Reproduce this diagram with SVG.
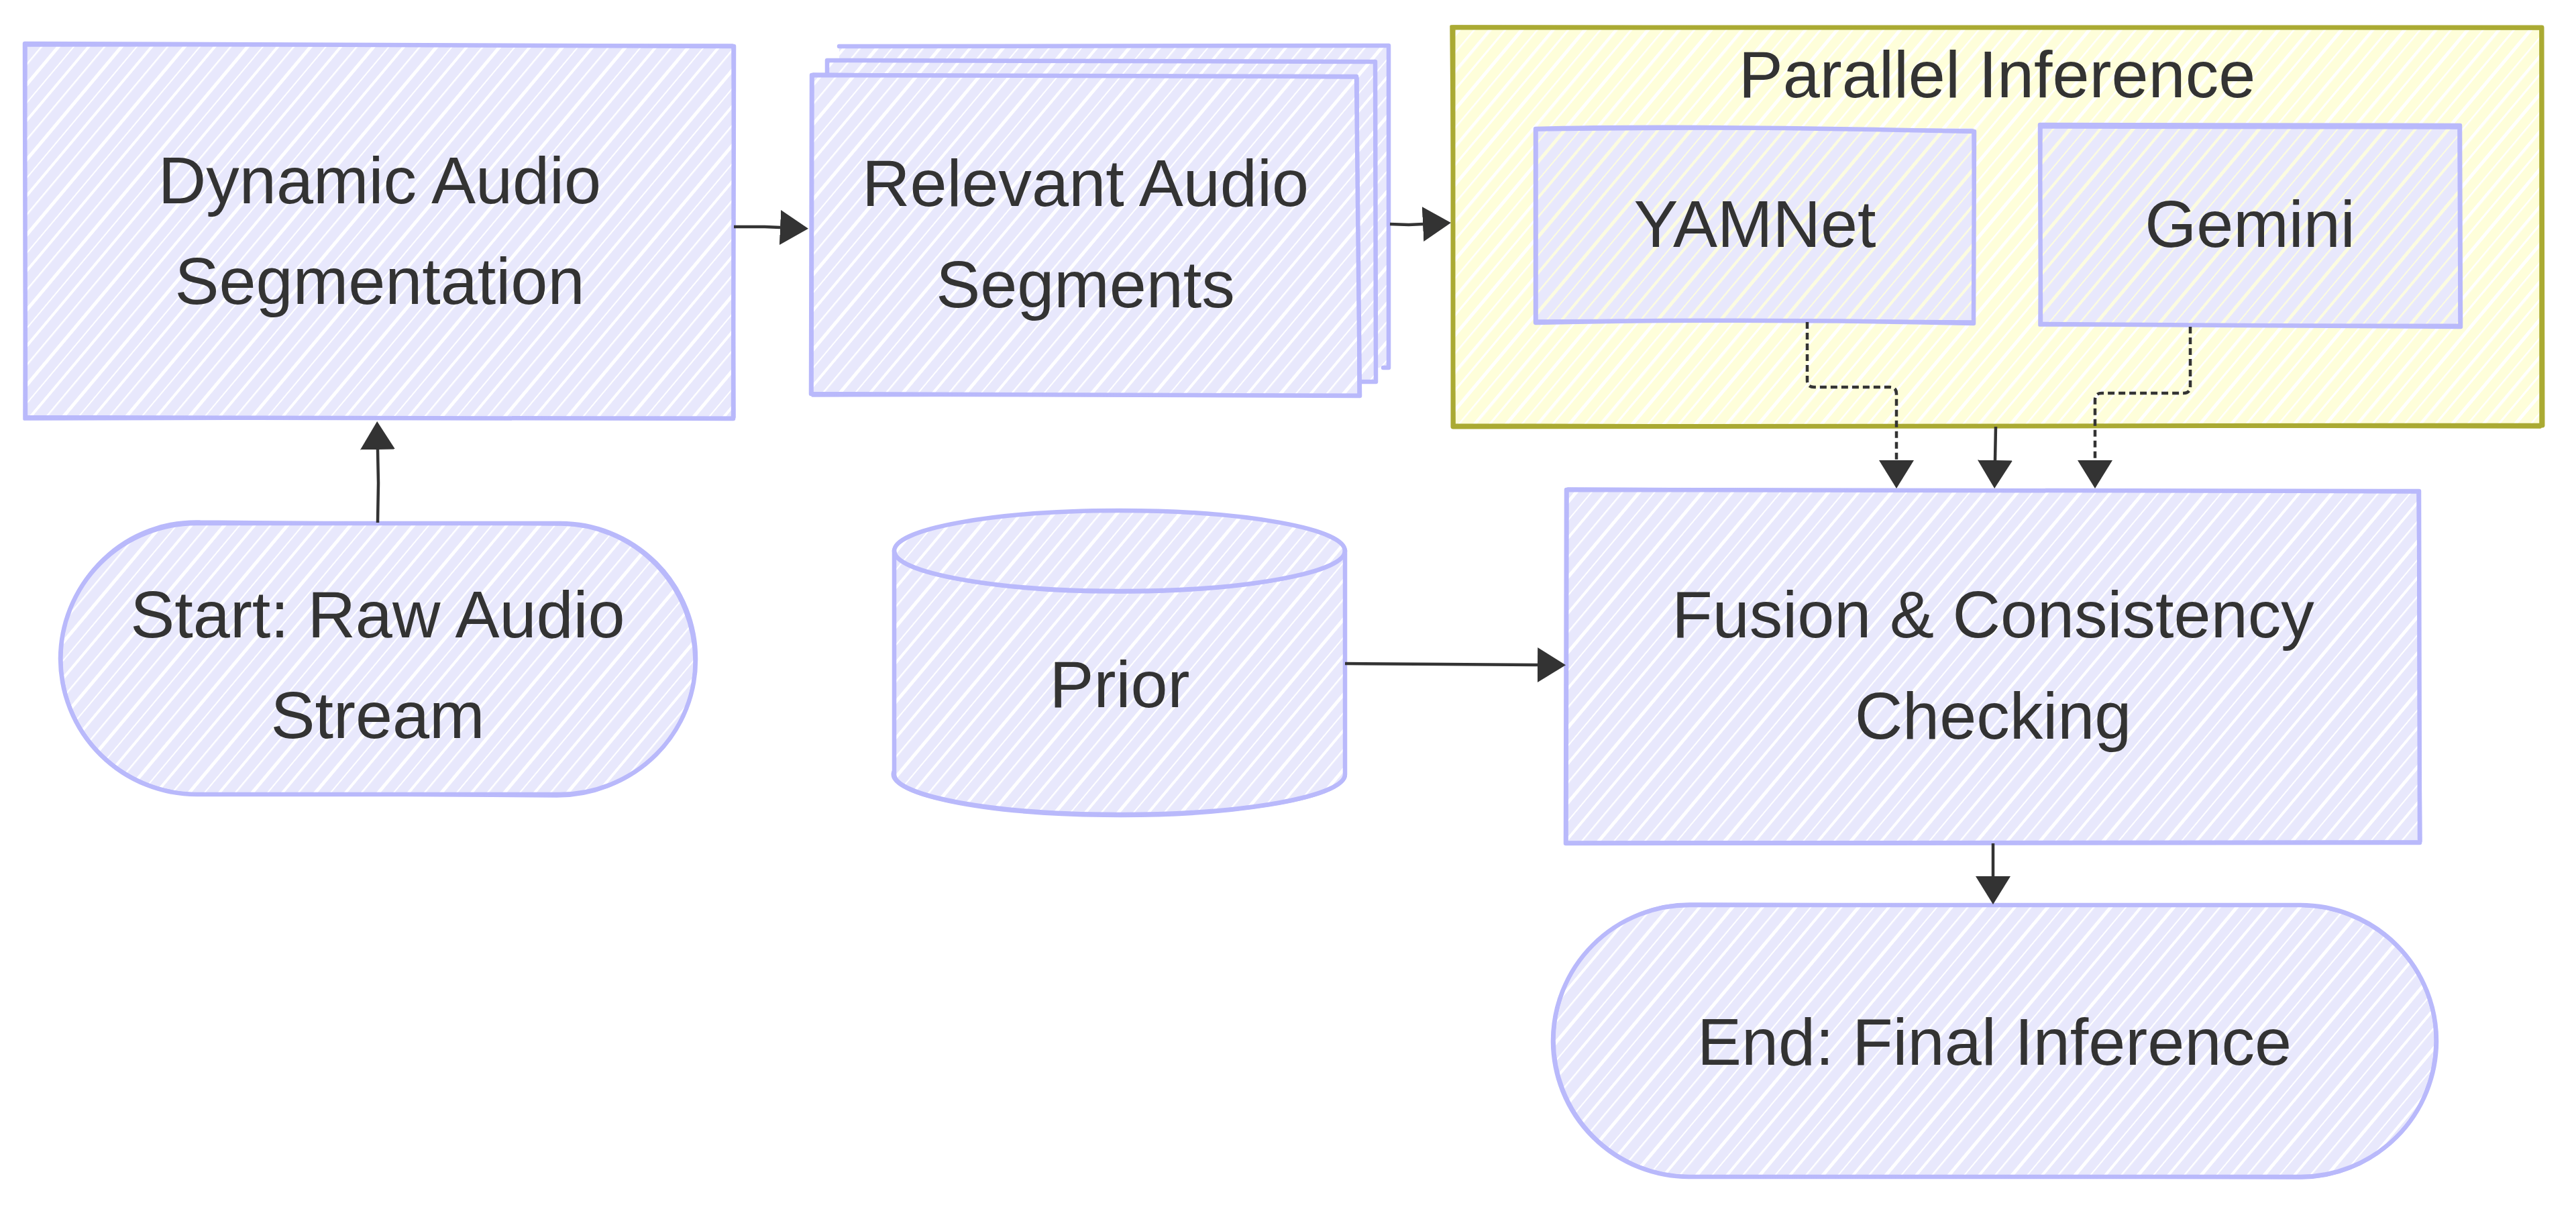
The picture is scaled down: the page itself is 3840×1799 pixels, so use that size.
<svg xmlns="http://www.w3.org/2000/svg" width="3840" height="1799" viewBox="0 0 3840 1799">
<defs>
<pattern id="hb" patternUnits="userSpaceOnUse" width="72" height="72" patternTransform="rotate(40)">
<rect width="72" height="72" fill="#E8E8FC"/>
<rect x="0" width="4" height="72" fill="#fff"/>
<rect x="19" width="2.5" height="72" fill="#fff"/>
<rect x="37" width="5" height="72" fill="#fff"/>
<rect x="56" width="2" height="72" fill="#fff"/>
</pattern>
<pattern id="hbi" patternUnits="userSpaceOnUse" width="72" height="72" patternTransform="rotate(40)">
<rect width="72" height="72" fill="#E8E8FC"/>
<rect x="0" width="4" height="72" fill="#FCFCE0"/>
<rect x="19" width="2.5" height="72" fill="#FCFCE0"/>
<rect x="37" width="5" height="72" fill="#FCFCE0"/>
<rect x="56" width="2" height="72" fill="#FCFCE0"/>
</pattern>
<pattern id="hy" patternUnits="userSpaceOnUse" width="72" height="72" patternTransform="rotate(40)">
<rect width="72" height="72" fill="#FEFEDA"/>
<rect x="0" width="4.5" height="72" fill="#fff"/>
<rect x="18" width="3" height="72" fill="#fff"/>
<rect x="36" width="5" height="72" fill="#fff"/>
<rect x="55" width="2.5" height="72" fill="#fff"/>
</pattern>
<marker id="ah" markerUnits="userSpaceOnUse" markerWidth="44" markerHeight="52" refX="0" refY="26" orient="auto">
<path d="M0,0 L42,26 L0,52 Z" fill="#333"/>
</marker>
<style>
.fb{fill:url(#hb);}
.fi{fill:url(#hbi);}
.fy{fill:url(#hy);}
.sb{fill:none;stroke:#B9B9FB;stroke-width:6.5;stroke-linejoin:round;stroke-linecap:round;}
.sb2{fill:none;stroke:#B9B9FB;stroke-width:3.5;stroke-linejoin:round;stroke-linecap:round;}
.sy{fill:none;stroke:#AAAA33;stroke-width:7;stroke-linejoin:round;stroke-linecap:round;}
.sy2{fill:none;stroke:#AAAA33;stroke-width:3.5;stroke-linejoin:round;stroke-linecap:round;}
.t{font-family:"Liberation Sans",Arial,Helvetica,sans-serif;font-size:99px;fill:#333;text-anchor:middle;}
.e{fill:none;stroke:#333;stroke-width:4.5;}
.d{fill:none;stroke:#333;stroke-width:4.5;stroke-dasharray:10 6;}
</style>
</defs>
<rect width="3840" height="1799" fill="#fff"/>

<g id="parallel-inference">
<rect class="fy" x="2166" y="41" width="1623" height="594"/>
<path class="sy" d="M2166,41 L3789,41 L3790,634 L2166,636 Z"/>
<path class="sy2" d="M2163,39 L3787,43 L3787,637 L2168,633 Z"/>
<text class="t" x="2977" y="145">Parallel Inference</text>
</g>

<g id="dynamic-audio-segmentation">
<rect class="fb" x="37" y="67" width="1057" height="556"/>
<path class="sb" d="M37,65 L1094,69 L1093,624 L38,622 Z"/>
<path class="sb2" d="M39,68 L1092,67 L1095,622 L36,625 Z"/>
<text class="t" x="566" y="303">Dynamic Audio</text>
<text class="t" x="566" y="453">Segmentation</text>
</g>

<g id="relevant-audio-segments">
<rect class="fb" x="1251" y="69" width="819" height="479"/>
<path class="sb" d="M1251,69 L2070,68 L2070,548 L2062,548"/>
<rect class="fb" x="1233" y="91" width="817" height="478"/>
<path class="sb" d="M1233,112 L1233,90 L2050,92 L2051,569 L2028,569"/>
<rect class="fb" x="1210" y="112" width="816" height="477"/>
<path class="sb" d="M1210,112 L2022,114 L2027,590 L1209,587 Z"/>
<path class="sb2" d="M1212,110 L2024,116 L2025,588 L1211,590 Z"/>
<text class="t" x="1618" y="307">Relevant Audio</text>
<text class="t" x="1618" y="458">Segments</text>
</g>

<g id="yamnet">
<rect class="fi" x="2289" y="191" width="654" height="289"/>
<path class="sb" d="M2289,192 Q2500,186 2943,196 L2942,482 Q2600,474 2289,481 Z"/>
<path class="sb2" d="M2291,194 Q2600,190 2941,194 L2943,479 Q2500,476 2291,478 Z"/>
<text class="t" x="2616" y="368">YAMNet</text>
</g>

<g id="gemini">
<rect class="fi" x="3042" y="188" width="624" height="298"/>
<path class="sb" d="M3041,186 L3667,187 L3668,487 L3042,483 Z"/>
<path class="sb2" d="M3043,190 L3665,191 L3666,484 L3040,485 Z"/>
<text class="t" x="3354" y="368">Gemini</text>
</g>

<g id="start-raw-audio-stream">
<path class="fb" d="M293,779 H835 A203,203 0 0 1 835,1185 H293 A203,203 0 0 1 293,779 Z"/>
<path class="sb" d="M293,780 H835 A202,202 0 0 1 1037,982 A203,201 0 0 1 835,1184 H293 A203,203 0 0 1 90,982 A203,203 0 0 1 293,780 Z"/>
<path class="sb2" d="M298,777 L838,782 A200,205 0 0 1 1035,985 A205,200 0 0 1 830,1187 L290,1183 A205,200 0 0 1 92,975 A200,200 0 0 1 298,777"/>
<text class="t" x="563" y="950">Start: Raw Audio</text>
<text class="t" x="563" y="1100">Stream</text>
</g>

<g id="prior">
<path class="fb" d="M1333,821 A336,60 0 0 1 2005,821 V1154 A336,60 0 0 1 1333,1154 Z"/>
<path class="sb" d="M1333,821 A336,60 0 0 1 2005,821 V1154 A336,60 0 0 1 1333,1154 Z"/>
<path class="sb" d="M1333,821 A336,60 0 0 0 2005,821"/>
<path class="sb2" d="M1335,824 A334,62 0 0 0 2003,818"/>
<path class="sb2" d="M1331,1150 A336,62 0 0 0 2006,1158"/>
<text class="t" x="1669" y="1054">Prior</text>
</g>

<g id="fusion-consistency-checking">
<rect class="fb" x="2335" y="730" width="1272" height="526"/>
<path class="sb" d="M2335,730 L3606,732 L3607,1256 L2334,1257 Z"/>
<path class="sb2" d="M2337,728 L3604,734 L3609,1254 L2336,1255 Z"/>
<text class="t" x="2971" y="950">Fusion &amp; Consistency</text>
<text class="t" x="2971" y="1101">Checking</text>
</g>

<g id="end-final-inference">
<path class="fb" d="M2518,1348 H3429 A203,203 0 0 1 3429,1755 H2518 A203,203 0 0 1 2518,1348 Z"/>
<path class="sb" d="M2518,1349 H3429 A203,203 0 0 1 3632,1552 A203,203 0 0 1 3429,1754 H2518 A203,203 0 0 1 2315,1552 A203,203 0 0 1 2518,1349 Z"/>
<path class="sb2" d="M2522,1347 L3425,1350 A205,200 0 0 1 3630,1556 A200,205 0 0 1 3431,1756 L2516,1753 A203,203 0 0 1 2317,1549 A202,204 0 0 1 2522,1347"/>
<text class="t" x="2973" y="1587">End: Final Inference</text>
</g>

<g id="connectors">
<path class="e" d="M1094,338 L1140,338 L1163,339" marker-end="url(#ah)"/>
<path class="e" d="M2072,334 L2100,335 L2121,334" marker-end="url(#ah)"/>
<path class="e" d="M563,779 L564,720 L563,670" marker-end="url(#ah)"/>
<path class="e" d="M2005,989 L2150,990 L2292,991" marker-end="url(#ah)"/>
<path class="e" d="M2975,636 L2974,686" marker-end="url(#ah)"/>
<path class="e" d="M2971,1257 L2971,1306" marker-end="url(#ah)"/>
<path class="d" d="M2694,480 V567 Q2694,577 2704,577 H2817 Q2827,577 2827,587 V686" marker-end="url(#ah)"/>
<path class="d" d="M3265,487 V576 Q3265,586 3255,586 H3133 Q3123,586 3123,596 V686" marker-end="url(#ah)"/>
</g>
</svg>
